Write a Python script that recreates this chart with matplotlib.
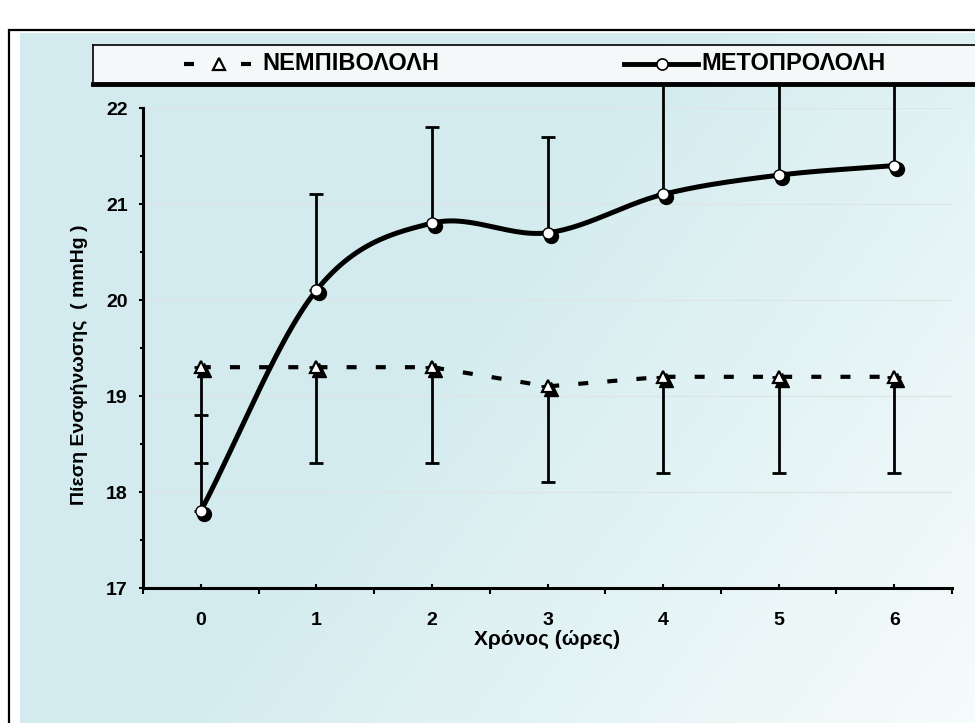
import numpy as np
import matplotlib.pyplot as plt
import matplotlib.transforms as mtransforms
from matplotlib.patches import Rectangle

# data
hours = [0, 1, 2, 3, 4, 5, 6]
nebivolol = [19.3, 19.3, 19.3, 19.1, 19.2, 19.2, 19.2]
nebivolol_low = [18.3, 18.3, 18.3, 18.1, 18.2, 18.2, 18.2]
metoprolol = [17.8, 20.1, 20.8, 20.7, 21.1, 21.3, 21.4]
metoprolol_high = [18.8, 21.1, 21.8, 21.7, 22.4, 22.4, 22.4]

plt.rcParams['font.family'] = ['Liberation Sans', 'DejaVu Sans']
plt.rcParams['font.weight'] = 'bold'


def smooth(x, y, n=30):
    # catmull-rom curve through the points (like excel's smoothed line)
    x = np.asarray(x, float)
    y = np.asarray(y, float)
    px = np.concatenate([[2 * x[0] - x[1]], x, [2 * x[-1] - x[-2]]])
    py = np.concatenate([[2 * y[0] - y[1]], y, [2 * y[-1] - y[-2]]])
    xs, ys = [], []
    t = np.linspace(0, 1, n)
    for i in range(1, len(px) - 2):
        for p, out in ((px, xs), (py, ys)):
            p0, p1, p2, p3 = p[i - 1], p[i], p[i + 1], p[i + 2]
            out.extend(0.5 * ((2 * p1) + (-p0 + p2) * t
                              + (2 * p0 - 5 * p1 + 4 * p2 - p3) * t ** 2
                              + (-p0 + 3 * p1 - 3 * p2 + p3) * t ** 3))
    return np.array(xs), np.array(ys)


fig = plt.figure(figsize=(9.75, 7.23), dpi=100)
fig.patch.set_facecolor('white')

# light blue scanned background fading to white on the right / bottom
bg = fig.add_axes([20 / 975, 0, 1 - 20 / 975, 1 - 33 / 723], zorder=-2)
gx, gy = np.meshgrid(np.linspace(0, 1, 300), np.linspace(0, 1, 300))
tt = np.clip(1.1 * gx + 0.6 * gy - 0.75, 0, 1)
blue = np.array([0.83, 0.925, 0.935])
white = np.array([0.975, 0.99, 0.99])
img = blue[None, None, :] * (1 - tt[..., None]) + white[None, None, :] * tt[..., None]
bg.imshow(img, aspect='auto', extent=[0, 1, 0, 1], origin='upper')
bg.axis('off')

fig.add_artist(Rectangle((9 / 975, -0.05), 1.0, 1 - 30 / 723 + 0.05,
                         transform=fig.transFigure, fill=False, lw=1.6, ec='black'))

ax = fig.add_axes([143 / 975, 135 / 723, 809 / 975, 480 / 723])
ax.set_facecolor('none')

shadow = mtransforms.offset_copy(ax.transData, fig=fig, x=3, y=-3, units='dots')

# error bars
zeros = np.zeros(len(hours))
eb1 = ax.errorbar(hours, nebivolol, yerr=[np.subtract(nebivolol, nebivolol_low), zeros],
                  fmt='none', ecolor='black', elinewidth=2, capsize=5, capthick=2, zorder=2)
eb2 = ax.errorbar(hours, metoprolol, yerr=[zeros, np.subtract(metoprolol_high, metoprolol)],
                  fmt='none', ecolor='black', elinewidth=2, capsize=5, capthick=2, zorder=2)
for eb in (eb1, eb2):
    for art in eb.lines[1] + eb.lines[2]:
        art.set_clip_on(False)

# nebivolol dashed line with triangles
ax.plot(hours, nebivolol, color='black', lw=3, dashes=(2.4, 4.6), zorder=3)
ax.plot(hours, nebivolol, ls='none', marker='^', ms=10, color='black',
        transform=shadow, zorder=4)
ax.plot(hours, nebivolol, ls='none', marker='^', ms=9, mfc='white', mec='black',
        mew=1.6, zorder=5)

# metoprolol smooth line with circles
sx, sy = smooth(hours, metoprolol)
ax.plot(sx, sy, color='black', lw=3.6, zorder=3)
ax.plot(hours, metoprolol, ls='none', marker='o', ms=10, color='black',
        transform=shadow, zorder=4)
ax.plot(hours, metoprolol, ls='none', marker='o', ms=8, mfc='white', mec='black',
        mew=1, zorder=5)

ax.set_xlim(-0.5, 6.5)
ax.set_ylim(17, 22)
ax.set_xticks(hours)
ax.set_xticks(np.arange(-0.5, 6.6, 1), minor=True)
ax.set_yticks([17, 18, 19, 20, 21, 22])
ax.set_yticks(np.arange(17.5, 22, 1), minor=True)
ax.yaxis.grid(True, color='#dde5e5', lw=1, zorder=0)

for side in ('top', 'right'):
    ax.spines[side].set_visible(False)
for side in ('left', 'bottom'):
    ax.spines[side].set_linewidth(2.2)

ax.tick_params(axis='x', which='major', direction='in', length=3, width=1.5,
               pad=17, labelsize=14)
ax.tick_params(axis='x', which='minor', direction='out', length=4, width=1.5)
ax.tick_params(axis='y', which='major', direction='out', length=3, width=1.5,
               pad=8, labelsize=14)
ax.tick_params(axis='y', which='minor', direction='out', length=2, width=1.5)

ax.set_xlabel('Χρόνος (ώρες)', fontsize=15, fontweight='bold', va='center')
ax.xaxis.set_label_coords(0.5, -0.108)
ax.set_ylabel('Πίεση Ενσφήνωσης  ( mmHg )', fontsize=14, fontweight='bold',
              va='center', ha='center')
ax.yaxis.set_label_coords(-0.078, 0.465)

# legend box drawn on top
lax = fig.add_axes([93 / 975, 1 - 84 / 723, 1 - 93 / 975 + 0.02, 39 / 723], zorder=6)
lax.set_xlim(93, 1000)
lax.set_ylim(84, 45)
lax.set_facecolor('#f4f8f9')
lax.set_xticks([])
lax.set_yticks([])
lax.spines['left'].set_linewidth(1.2)
lax.spines['top'].set_linewidth(1.2)
lax.spines['bottom'].set_linewidth(3.5)
lax.spines['right'].set_visible(False)
ly = 64
lax.plot([185, 195], [ly, ly], color='black', lw=3, solid_capstyle='butt')
lax.plot([242, 252], [ly, ly], color='black', lw=3, solid_capstyle='butt')
lax.plot([220], [ly], marker='^', ms=8, mfc='white', mec='black', mew=1.6)
lax.text(263, ly, 'ΝΕΜΠΙΒΟΛΟΛΗ', fontsize=17, fontweight='bold', va='center', ha='left')
lax.plot([627, 702], [ly, ly], color='black', lw=3.5)
lax.plot([665], [ly], marker='o', ms=8, mfc='white', mec='black', mew=1.2)
lax.text(705, ly, 'ΜΕΤΟΠΡΟΛΟΛΗ', fontsize=17, fontweight='bold', va='center', ha='left')

fig.savefig('out.png', dpi=100)
